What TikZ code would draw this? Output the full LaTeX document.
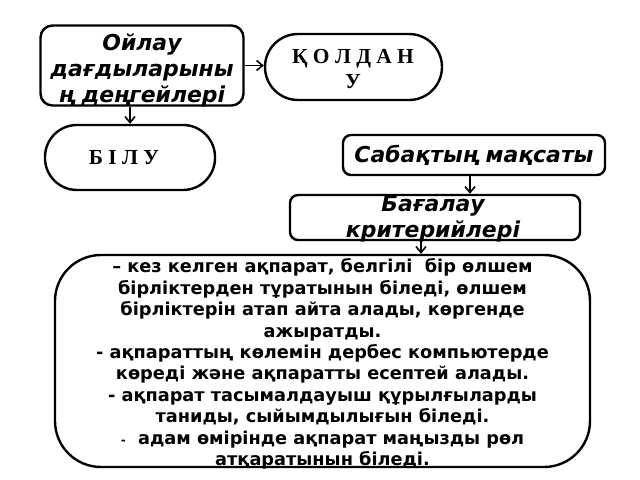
\documentclass[tikz,border=0pt]{standalone}
\usepackage{fontspec}
\setmainfont{DejaVu Sans}
\newfontfamily\serifb{Liberation Serif}
\usetikzlibrary{arrows.meta,positioning,calc}
\tikzset{
  box/.style={draw=black, line width=2.4bp, fill=white},
  arr/.style={draw=black, line width=1.8bp, -{Straight Barb[length=6bp,width=10bp,line width=1.6bp]}},
  hdr/.style={font=\fontsize{22}{26}\selectfont\bfseries\itshape, align=center, inner sep=0pt},
  sb/.style={font=\fontsize{21.5}{25}\selectfont\serifb\bfseries, align=center, inner sep=0pt},
  body/.style={font=\fontsize{17.8}{21.5}\selectfont\bfseries, align=center, inner sep=0pt},
}
\begin{document}
\begin{tikzpicture}[x=1bp,y=-1bp]
\useasboundingbox (0,0) rectangle (640,480);
% boxes
\node[box, rounded corners=12bp, minimum width=203bp, minimum height=80bp] (oi) at (142,65.5) {};
\node[box, rounded corners=33bp, minimum width=177bp, minimum height=66bp] (kol) at (353.5,67) {};
\node[box, rounded corners=32bp, minimum width=170bp, minimum height=65bp] (bil) at (130,157.5) {};
\node[box, rounded corners=8bp, minimum width=262bp, minimum height=40bp] (sab) at (474,155) {};
\node[box, rounded corners=8bp, minimum width=290bp, minimum height=45bp] (crit) at (435,217.5) {};
\node[box, rounded corners=46bp, minimum width=535bp, minimum height=212bp] (big) at (322.5,361) {};
% texts
\node[hdr] (oiT) at (142,70) {Ойлау\\дағдыларыны\\ң деңгейлері};
\node[sb] (kolT) at (353,69) {Қ О Л Д А Н\\У};
\node[sb] (bilT) at (124,158) {Б І Л У};
\node[hdr] (sabT) at (sab.center) {Сабақтың мақсаты};
\node[hdr] (critT) at (433,219) {Бағалау\\критерийлері};
\node[body] (bigT) at (322.5,364) {– кез келген ақпарат, белгілі\ \ бір өлшем\\бірліктерден тұратынын біледі, өлшем\\бірліктерін атап айта алады, көргенде\\ажыратды.\\- ақпараттың көлемін дербес компьютерде\\көреді және ақпаратты есептей алады.\\- ақпарат тасымалдауыш құрылғыларды\\таниды, сыйымдылығын біледі.\\{\fontsize{12}{12}\selectfont -}\ \ адам өмірінде ақпарат маңызды рөл\\атқаратынын біледі.};
% connectors
\draw[arr] (oi.east) -- (oi.east -| kol.west);
\draw[arr] (oi.south -| bil.north) -- (bil.north);
\draw[arr] ([xshift=-4bp]sab.south) -- ([xshift=-4bp]sab.south |- crit.north);
\draw[arr] ([xshift=-14bp]crit.south) -- ([xshift=-14bp]crit.south |- big.north);
\end{tikzpicture}
\end{document}
